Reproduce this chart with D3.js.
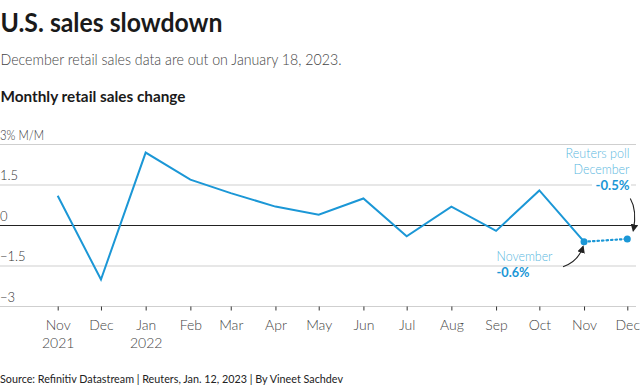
<!DOCTYPE html>
<html>
<head>
<meta charset="utf-8">
<script src="https://cdn.jsdelivr.net/npm/d3@7"></script>
<style>
  body { margin: 0; background: #fff; }
  svg { display: block; font-family: Lato, "Noto Sans", sans-serif; }
</style>
</head>
<body>
<div id="chart"></div>
<script>
// monthly retail sales change, % M/M
var months = ["2021-11", "2021-12", "2022-01", "2022-02", "2022-03", "2022-04", "2022-05",
              "2022-06", "2022-07", "2022-08", "2022-09", "2022-10", "2022-11"];
var actual = [1.1, -2.0, 2.7, 1.7, 1.2, 0.7, 0.4, 1.0, -0.4, 0.7, -0.2, 1.3, -0.6];
var pollMonths = ["2022-11", "2022-12"];
var poll = [-0.6, -0.5];
var yTicks = [3, 1.5, 0, -1.5, -3];
var yTickLabels = ["3% M/M", "1.5", "0", "\u22121.5", "\u22123"];
var xTickMonths = ["2021-11", "2021-12", "2022-01", "2022-02", "2022-03", "2022-04", "2022-05",
                   "2022-06", "2022-07", "2022-08", "2022-09", "2022-10", "2022-11", "2022-12"];

var width = 640, height = 388;
var blue = "#1b97d6", lightBlue = "#5ab8e0";
var parse = d3.timeParse("%Y-%m");

var svg = d3.select("#chart").append("svg")
  .attr("width", width)
  .attr("height", height);

var x = d3.scaleTime()
  .domain([parse("2021-11"), parse("2022-12")])
  .range([57.7, 627.3]);

var y = d3.scaleLinear()
  .domain([-3, 3])
  .range([306.5, 144.5]);

// squeeze text a bit, the original font is narrower than Lato
function fit(sel, w) {
  return sel.attr("textLength", w).attr("lengthAdjust", "spacingAndGlyphs");
}

// titles
fit(svg.append("text").attr("x", 0.5).attr("y", 32)
  .attr("font-size", 26).attr("font-weight", 700).attr("fill", "#1a1a1a")
  .text("U.S. sales slowdown"), 222);
fit(svg.append("text").attr("x", 0.5).attr("y", 65)
  .attr("font-size", 15.5).attr("font-weight", 300).attr("fill", "#444")
  .text("December retail sales data are out on January 18, 2023."), 341);
fit(svg.append("text").attr("x", 0.5).attr("y", 102)
  .attr("font-size", 15.5).attr("font-weight", 700).attr("fill", "#1a1a1a")
  .text("Monthly retail sales change"), 185);

// y grid
var grid = svg.append("g");
grid.selectAll("line")
  .data(yTicks)
  .enter().append("line")
  .attr("x1", 0).attr("x2", 636)
  .attr("y1", function(d) { return y(d); })
  .attr("y2", function(d) { return y(d); })
  .attr("stroke", function(d) { return d === 0 ? "#222" : "#cfcfcf"; })
  .attr("stroke-width", 1);
grid.selectAll("text")
  .data(yTicks)
  .enter().append("text")
  .attr("x", 0)
  .attr("y", function(d) { return y(d) - 5; })
  .attr("font-size", 13).attr("font-weight", 300).attr("fill", "#333")
  .text(function(d, i) { return yTickLabels[i]; })
  .each(function(d) { if (d === 3) fit(d3.select(this), 44); });

// x axis
var xAxis = d3.axisBottom(x)
  .tickValues(xTickMonths.map(parse))
  .tickSize(4)
  .tickPadding(5)
  .tickFormat(d3.timeFormat("%b"));

var gx = svg.append("g")
  .attr("transform", "translate(0," + y(-3) + ")")
  .call(xAxis);
gx.select(".domain").remove();
gx.selectAll(".tick line").attr("stroke", "#333");
gx.selectAll(".tick text")
  .attr("font-family", "Lato, sans-serif")
  .attr("font-size", 14).attr("font-weight", 300).attr("fill", "#444")
  .attr("dy", "1.05em");
gx.selectAll(".tick text").each(function(d) {
  if (d.getMonth() === 10 && d.getFullYear() === 2021 || d.getMonth() === 0) {
    d3.select(this).append("tspan")
      .attr("x", 0).attr("dy", "1.25em")
      .text(d.getFullYear());
  }
});

// actual line
var line = d3.line()
  .x(function(d) { return x(parse(d[0])); })
  .y(function(d) { return y(d[1]); });

svg.append("path")
  .datum(d3.zip(months, actual))
  .attr("d", line)
  .attr("fill", "none")
  .attr("stroke", blue)
  .attr("stroke-width", 2)
  .attr("stroke-linejoin", "miter");

// poll, dotted
svg.append("path")
  .datum(d3.zip(pollMonths, poll))
  .attr("d", line)
  .attr("fill", "none")
  .attr("stroke", blue)
  .attr("stroke-width", 2.2)
  .attr("stroke-dasharray", "1.5,3")
  .attr("stroke-linecap", "round");

svg.selectAll("circle.pt")
  .data(d3.zip(pollMonths, poll))
  .enter().append("circle")
  .attr("class", "pt")
  .attr("cx", function(d) { return x(parse(d[0])); })
  .attr("cy", function(d) { return y(d[1]); })
  .attr("r", 3.5)
  .attr("fill", blue);

// annotations
svg.append("defs").append("marker")
  .attr("id", "arr")
  .attr("viewBox", "0 0 10 10")
  .attr("refX", 8).attr("refY", 5)
  .attr("markerWidth", 7).attr("markerHeight", 7)
  .attr("orient", "auto")
  .append("path").attr("d", "M0,0 L10,5 L0,10 z").attr("fill", "#222");

var nx = x(parse("2022-11")), ny = y(-0.6);
var dx = x(parse("2022-12")), dy = y(-0.5);

svg.append("path")
  .attr("d", "M" + (nx - 21) + "," + (ny + 25) + " Q" + (nx - 6) + "," + (ny + 20) + " " + (nx - 1) + "," + (ny + 5))
  .attr("fill", "none").attr("stroke", "#222").attr("stroke-width", 1.1)
  .attr("marker-end", "url(#arr)");

svg.append("path")
  .attr("d", "M" + (dx + 3) + "," + (y(0) - 27) + " Q" + (dx + 10) + "," + (y(0) - 15) + " " + (dx + 6) + "," + (y(0) + 5))
  .attr("fill", "none").attr("stroke", "#222").attr("stroke-width", 1.1)
  .attr("marker-end", "url(#arr)");

fit(svg.append("text").attr("x", 496.5).attr("y", 261)
  .attr("font-size", 14).attr("font-weight", 300).attr("fill", lightBlue)
  .text("November"), 56);
fit(svg.append("text").attr("x", 496.5).attr("y", 276.5)
  .attr("font-size", 14).attr("font-weight", 700).attr("fill", blue)
  .text("-0.6%"), 33);

svg.append("rect").attr("x", 592).attr("y", 178).attr("width", 39).attr("height", 14)
  .attr("fill", "#fff");
fit(svg.append("text").attr("x", 629.5).attr("y", 157.5).attr("text-anchor", "end")
  .attr("font-size", 14).attr("font-weight", 300).attr("fill", lightBlue)
  .text("Reuters poll"), 64);
fit(svg.append("text").attr("x", 629.5).attr("y", 173.5).attr("text-anchor", "end")
  .attr("font-size", 14).attr("font-weight", 300).attr("fill", lightBlue)
  .text("December"), 56);
fit(svg.append("text").attr("x", 629.5).attr("y", 189.5).attr("text-anchor", "end")
  .attr("font-size", 14).attr("font-weight", 700).attr("fill", blue)
  .text("-0.5%"), 34);

// source
fit(svg.append("text").attr("x", 0).attr("y", 382.5)
  .attr("font-size", 12).attr("fill", "#222")
  .text("Source: Refinitiv Datastream | Reuters, Jan. 12, 2023 | By Vineet Sachdev"), 343);
</script>
</body>
</html>
